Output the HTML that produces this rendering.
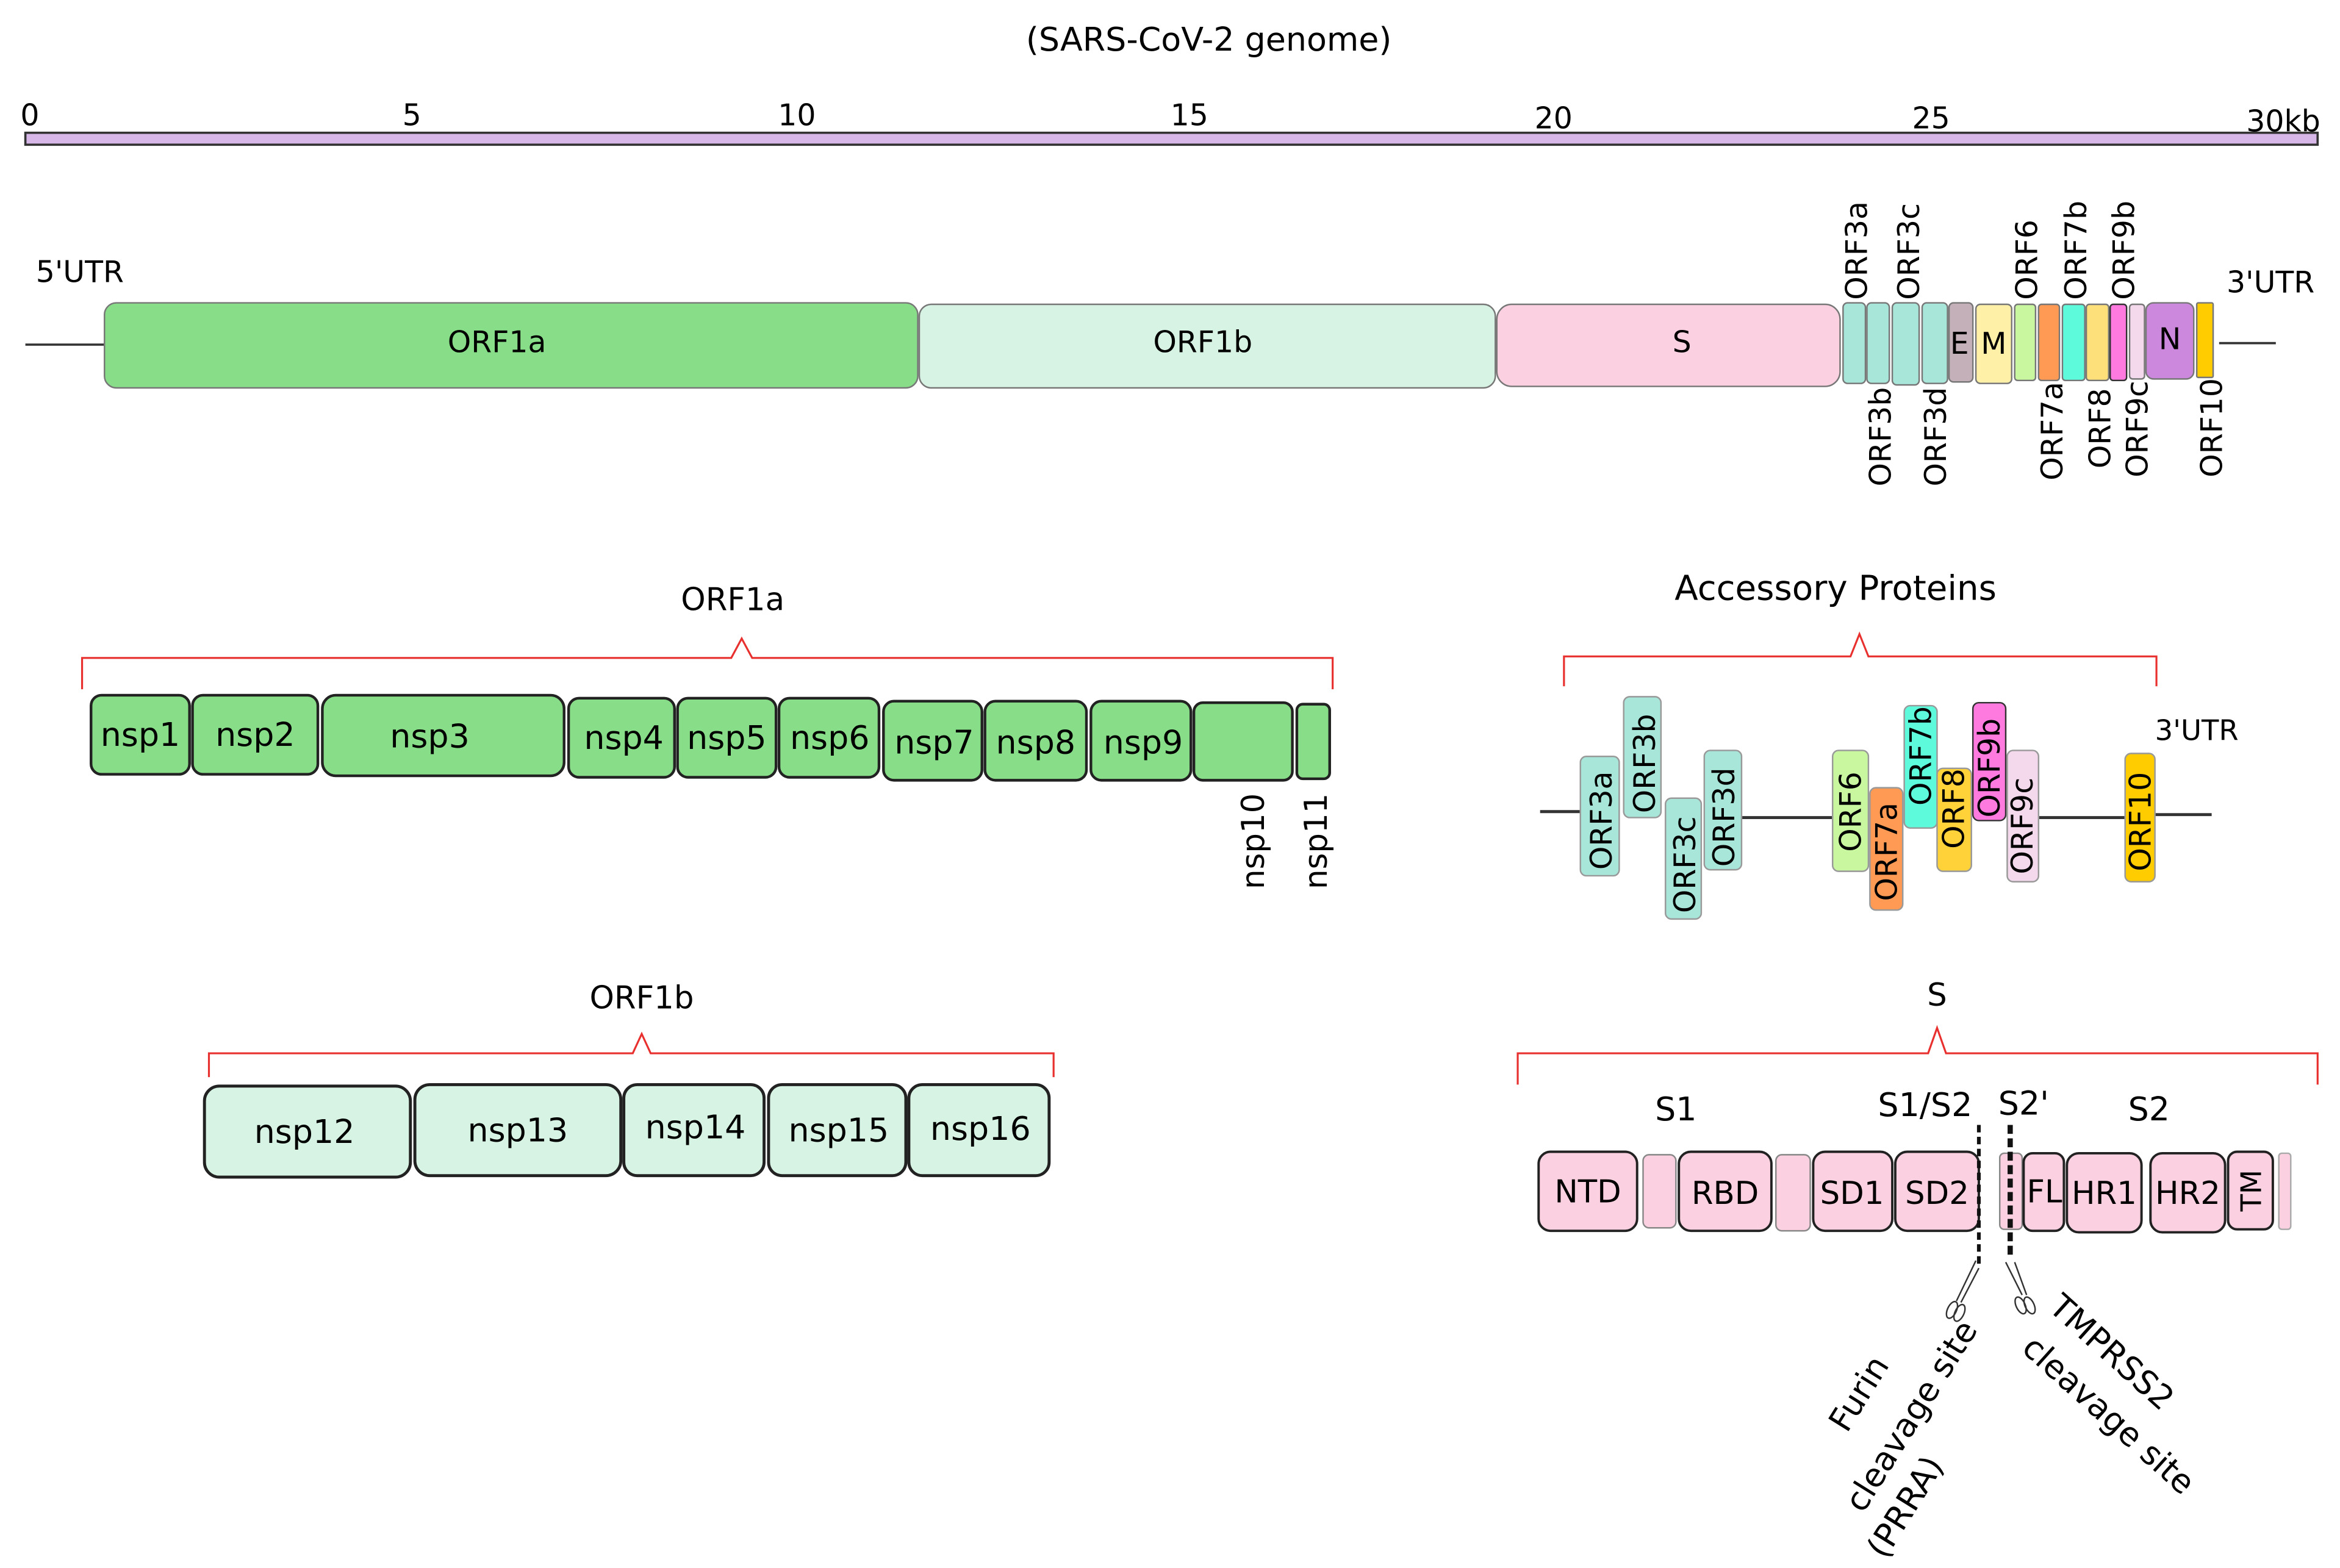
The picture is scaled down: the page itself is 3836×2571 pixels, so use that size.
<!DOCTYPE html>
<html><head><meta charset="utf-8"><style>html,body{margin:0;padding:0;background:#fff}svg{display:block}</style></head><body>
<svg xmlns="http://www.w3.org/2000/svg" width="3836" height="2571" viewBox="0 0 1568 1051" preserveAspectRatio="none" font-family="DejaVu Sans, Liberation Sans, sans-serif">
<rect width="1568" height="1051" fill="#fff"/>
<text x="810" y="34" font-size="22" text-anchor="middle">(SARS-CoV-2 genome)</text>
<g font-size="20" text-anchor="middle">
<text x="20" y="84">0</text><text x="276" y="84">5</text><text x="534" y="84">10</text><text x="797" y="84">15</text><text x="1041" y="86">20</text><text x="1294" y="86">25</text><text x="1530" y="88">30kb</text></g>
<rect x="17" y="89" width="1536" height="8" fill="#d7b6e8" stroke="#333" stroke-width="1.5"/>
<line x1="17" y1="231" x2="70" y2="231" stroke="#333" stroke-width="1.5"/>
<line x1="1487" y1="230" x2="1525" y2="230" stroke="#333" stroke-width="1.5"/>
<text x="24" y="189" font-size="20">5'UTR</text>
<text x="1492" y="196" font-size="20">3'UTR</text>
<g stroke="#777" stroke-width="1">
<rect x="70" y="203" width="545" height="57" rx="8" fill="#88de88"/>
<rect x="616" y="204" width="386" height="56" rx="8" fill="#d7f3e3"/>
<rect x="1003" y="204" width="230" height="55" rx="10" fill="#fbd0e0"/>
<rect x="1235" y="203" width="15" height="54" rx="3" fill="#a8e6da"/>
<rect x="1251" y="203" width="15" height="54" rx="3" fill="#a8e6da"/>
<rect x="1268" y="203" width="18" height="55" rx="3" fill="#a8e6da"/>
<rect x="1288" y="203" width="17" height="54" rx="3" fill="#a8e6da"/>
<rect x="1306" y="203" width="16" height="53" rx="3" fill="#c4b0b8"/>
<rect x="1324" y="204" width="24" height="53" rx="3" fill="#fff0a8"/>
<rect x="1350" y="204" width="14" height="51" rx="2" fill="#c8f7a0"/>
<rect x="1366" y="204" width="14" height="51" rx="2" fill="#ff9a55"/>
<rect x="1382" y="204" width="15" height="51" rx="2" fill="#5dfadc"/>
<rect x="1398" y="204" width="15" height="51" rx="2" fill="#fde07a"/>
<rect x="1414" y="204" width="11" height="51" rx="2" fill="#ff7ade" stroke="#333"/>
<rect x="1427" y="204" width="10" height="50" rx="2" fill="#f4d8ec"/>
<rect x="1438" y="203" width="32" height="51" rx="5" fill="#cc88dd"/>
<rect x="1472" y="203" width="11" height="50" rx="1" fill="#ffcc00"/>
</g>
<g font-size="20" text-anchor="middle">
<text x="333" y="236">ORF1a</text><text x="806" y="236">ORF1b</text><text x="1127" y="236">S</text>
<text x="1313" y="237">E</text><text x="1336" y="237">M</text><text x="1454" y="234">N</text></g>
<g font-size="20">
<text transform="translate(1251,201) rotate(-90)">ORF3a</text>
<text transform="translate(1286,201) rotate(-90)">ORF3c</text>
<text transform="translate(1365,201) rotate(-90)">ORF6</text>
<text transform="translate(1398,201) rotate(-90)">ORF7b</text>
<text transform="translate(1430,201) rotate(-90)">ORF9b</text>
<text transform="translate(1267,326) rotate(-90)">ORF3b</text>
<text transform="translate(1304,326) rotate(-90)">ORF3d</text>
<text transform="translate(1382,322) rotate(-90)">ORF7a</text>
<text transform="translate(1414,314) rotate(-90)">ORF8</text>
<text transform="translate(1439,320) rotate(-90)">ORF9c</text>
<text transform="translate(1489,320) rotate(-90)">ORF10</text>
</g>
<g fill="none" stroke="#e8302e" stroke-width="1.3">
<path d="M55,462 L55,441 L490,441 L497,428 L504,441 L893,441 L893,462"/>
<path d="M140,722 L140,706 L424,706 L430,693 L436,706 L706,706 L706,722"/>
<path d="M1048,460 L1048,440 L1240,440 L1246,425 L1252,440 L1445,440 L1445,460"/>
<path d="M1017,727 L1017,706 L1292,706 L1298,689 L1304,706 L1553,706 L1553,727"/>
</g>
<text x="491" y="409" font-size="21" text-anchor="middle">ORF1a</text>
<text x="430" y="676" font-size="21" text-anchor="middle">ORF1b</text>
<text x="1230" y="402" font-size="23" text-anchor="middle">Accessory Proteins</text>
<text x="1298" y="674" font-size="21" text-anchor="middle">S</text>
<g fill="#88de88" stroke="#222" stroke-width="1.8">
<rect x="61" y="466" width="66" height="53" rx="7"/>
<rect x="129" y="466" width="84" height="53" rx="7"/>
<rect x="216" y="466" width="162" height="54" rx="9"/>
<rect x="381" y="468" width="71" height="53" rx="7"/>
<rect x="454" y="468" width="66" height="53" rx="7"/>
<rect x="522" y="468" width="67" height="53" rx="7"/>
<rect x="592" y="470" width="66" height="53" rx="7"/>
<rect x="660" y="470" width="68" height="53" rx="7"/>
<rect x="731" y="470" width="67" height="53" rx="7"/>
<rect x="800" y="471" width="66" height="52" rx="6"/>
<rect x="869" y="472" width="22" height="50" rx="4"/>
</g>
<g font-size="22" text-anchor="middle">
<text x="94" y="500">nsp1</text><text x="171" y="500">nsp2</text><text x="288" y="501">nsp3</text>
<text x="418" y="502">nsp4</text><text x="487" y="502">nsp5</text><text x="556" y="502">nsp6</text>
<text x="626" y="505">nsp7</text><text x="694" y="505">nsp8</text><text x="766" y="505">nsp9</text></g>
<text transform="translate(847,596) rotate(-90)" font-size="21">nsp10</text>
<text transform="translate(889,596) rotate(-90)" font-size="21">nsp11</text>
<g fill="#d7f3e3" stroke="#222" stroke-width="2">
<rect x="137" y="728" width="138" height="61" rx="10"/>
<rect x="278" y="727" width="138" height="61" rx="10"/>
<rect x="418" y="727" width="94" height="61" rx="9"/>
<rect x="515" y="727" width="92" height="61" rx="9"/>
<rect x="609" y="727" width="94" height="61" rx="9"/>
</g>
<g font-size="22" text-anchor="middle">
<text x="204" y="766">nsp12</text><text x="347" y="765">nsp13</text><text x="466" y="763">nsp14</text><text x="562" y="765">nsp15</text><text x="657" y="764">nsp16</text></g>
<g stroke="#333" stroke-width="2">
<line x1="1032" y1="544" x2="1059" y2="544"/><line x1="1167" y1="548" x2="1228" y2="548"/>
<line x1="1366" y1="548" x2="1424" y2="548"/><line x1="1444" y1="546" x2="1482" y2="546"/></g>
<g stroke="#999" stroke-width="1">
<rect x="1059" y="507" width="26" height="80" rx="4" fill="#a8e6da"/>
<rect x="1088" y="467" width="25" height="81" rx="4" fill="#a8e6da"/>
<rect x="1116" y="535" width="24" height="81" rx="4" fill="#a8e6da"/>
<rect x="1142" y="503" width="25" height="80" rx="4" fill="#a8e6da"/>
<rect x="1228" y="503" width="24" height="81" rx="4" fill="#c8f7a0"/>
<rect x="1253" y="528" width="22" height="82" rx="4" fill="#ff9a55"/>
<rect x="1276" y="473" width="22" height="82" rx="4" fill="#5dfadc"/>
<rect x="1298" y="515" width="23" height="69" rx="4" fill="#ffd23a"/>
<rect x="1322" y="471" width="22" height="79" rx="4" fill="#ff7ade" stroke="#333"/>
<rect x="1345" y="503" width="21" height="88" rx="4" fill="#f4d8ec"/>
<rect x="1424" y="505" width="20" height="86" rx="4" fill="#ffcc00"/>
</g>
<g font-size="20">
<text transform="translate(1080,583) rotate(-90)">ORF3a</text>
<text transform="translate(1109,545) rotate(-90)">ORF3b</text>
<text transform="translate(1136,612) rotate(-90)">ORF3c</text>
<text transform="translate(1162,581) rotate(-90)">ORF3d</text>
<text transform="translate(1247,571) rotate(-90)">ORF6</text>
<text transform="translate(1271,604) rotate(-90)">ORF7a</text>
<text transform="translate(1294,540) rotate(-90)">ORF7b</text>
<text transform="translate(1316,569) rotate(-90)">ORF8</text>
<text transform="translate(1340,548) rotate(-90)">ORF9b</text>
<text transform="translate(1362,586) rotate(-90)">ORF9c</text>
<text transform="translate(1441,584) rotate(-90)">ORF10</text>
</g>
<text x="1444" y="496" font-size="19">3'UTR</text>
<g font-size="22" text-anchor="middle">
<text x="1123" y="751">S1</text><text x="1290" y="748">S1/S2</text><text x="1356" y="747">S2'</text><text x="1440" y="751">S2</text></g>
<g fill="#fbd0e0" stroke="#222" stroke-width="1.6">
<rect x="1031" y="772" width="66" height="53" rx="8"/>
<rect x="1101" y="774" width="22" height="49" rx="4" stroke="#888" stroke-width="1"/>
<rect x="1125" y="772" width="62" height="53" rx="8"/>
<rect x="1190" y="774" width="23" height="51" rx="4" stroke="#888" stroke-width="1"/>
<rect x="1215" y="772" width="53" height="53" rx="8"/>
<rect x="1270" y="772" width="56" height="53" rx="8"/>
<rect x="1340" y="773" width="15" height="51" rx="3" stroke="#888" stroke-width="1"/>
<rect x="1356" y="773" width="27" height="52" rx="6"/>
<rect x="1385" y="773" width="50" height="53" rx="8"/>
<rect x="1441" y="773" width="50" height="53" rx="8"/>
<rect x="1493" y="772" width="30" height="52" rx="6"/>
<rect x="1527" y="773" width="8" height="51" rx="2" stroke="#aaa" stroke-width="1"/>
</g>
<g font-size="21" text-anchor="middle">
<text x="1064" y="806">NTD</text><text x="1156" y="807">RBD</text><text x="1241" y="807">SD1</text><text x="1298" y="807">SD2</text>
<text x="1370" y="806">FL</text><text x="1410" y="807">HR1</text><text x="1466" y="807">HR2</text></g>
<text transform="translate(1515,798) rotate(-90)" font-size="19" text-anchor="middle">TM</text>
<line x1="1326" y1="754" x2="1326" y2="850" stroke="#111" stroke-width="2.5" stroke-dasharray="5,3"/>
<line x1="1347" y1="754" x2="1347" y2="842" stroke="#111" stroke-width="3.5" stroke-dasharray="6,3"/>
<g fill="none" stroke="#333" stroke-width="1">
<path d="M1324,845 L1311,872 M1326,850 L1314,873"/>
<ellipse cx="1308" cy="878" rx="3" ry="6" transform="rotate(25 1308 878)"/>
<ellipse cx="1313" cy="880" rx="3" ry="6" transform="rotate(25 1313 880)"/>
<path d="M1344,846 L1355,868 M1350,846 L1358,868"/>
<ellipse cx="1354" cy="875" rx="3" ry="6" transform="rotate(-25 1354 875)"/>
<ellipse cx="1360" cy="875" rx="3" ry="6" transform="rotate(-25 1360 875)"/>
</g>
<g font-size="22" text-anchor="middle">
<text transform="translate(1252,938) rotate(-58)">Furin</text>
<text transform="translate(1287,953) rotate(-58)">cleavage site</text>
<text transform="translate(1283,1014) rotate(-58)">(PRRA)</text>
<text transform="translate(1410,912) rotate(42)">TMPRSS2</text>
<text transform="translate(1408,954) rotate(42)">cleavage site</text>
</g>
</svg>
</body></html>
